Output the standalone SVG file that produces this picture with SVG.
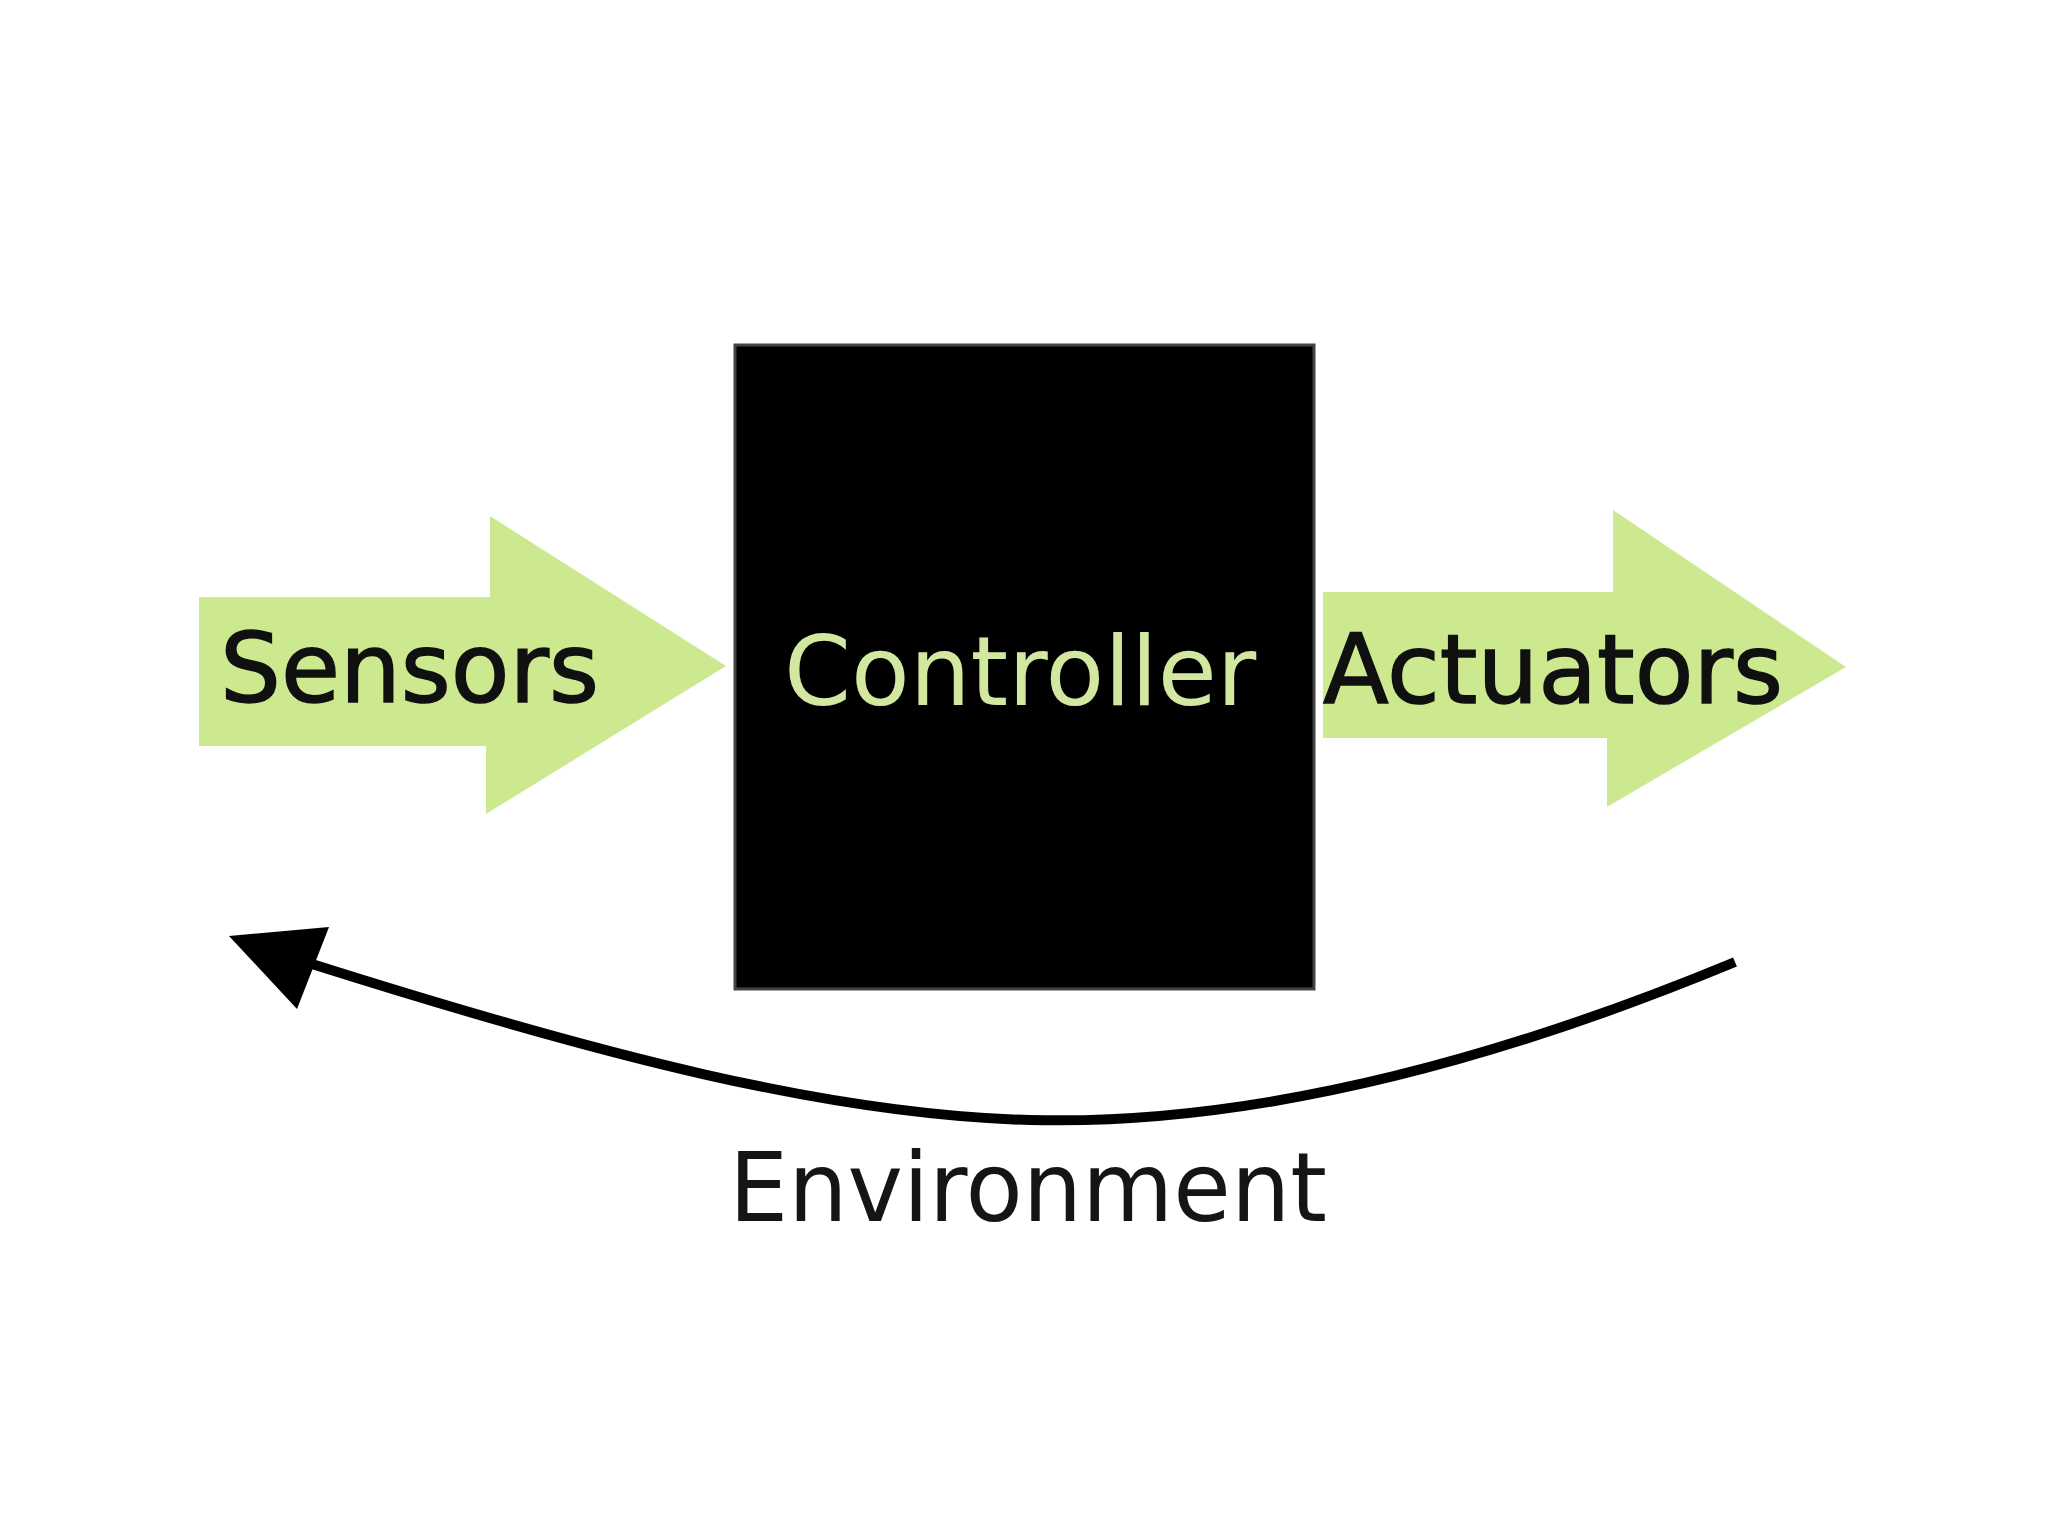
<svg xmlns="http://www.w3.org/2000/svg" width="2048" height="1535" viewBox="0 0 2048 1535">
<style>
.arrow{fill:#cde98f;}
.lbl{font-family:"DejaVu Sans",Verdana,sans-serif;font-size:96px;}
.dark{fill:#101010;stroke:#101010;stroke-width:1.5;}
.conn{fill:none;stroke:#000;stroke-width:10;stroke-linecap:butt;}
</style>
<rect width="2048" height="1535" fill="#fff"/>
<g id="sensors">
<polygon class="arrow" points="199,597 490,597 490,516 726,666 486,814 486,746 199,746"/>
<text class="lbl dark" x="220" y="702">Sensors</text>
</g>
<g id="controller">
<rect x="735" y="345" width="579" height="644" fill="#000" stroke="#444" stroke-width="3"/>
<text class="lbl" x="784" y="705" fill="#d2e8a0">Controller</text>
</g>
<g id="actuators">
<polygon class="arrow" points="1323,592 1613,592 1613,510 1846,667 1607,807 1607,738 1323,738"/>
<text class="lbl dark" x="1323" y="703">Actuators</text>
</g>
<g id="environment">
<text class="lbl" x="729" y="1221" fill="#151515" textLength="598" lengthAdjust="spacingAndGlyphs">Environment</text>
</g>
<g id="connectors">
<path class="conn" d="M1735,962 C1450,1080 1220,1125 1030,1120 C830,1115 600,1055 312,964"/>
<polygon points="229,936 329,927 297,1009" fill="#000"/>
</g>
</svg>
